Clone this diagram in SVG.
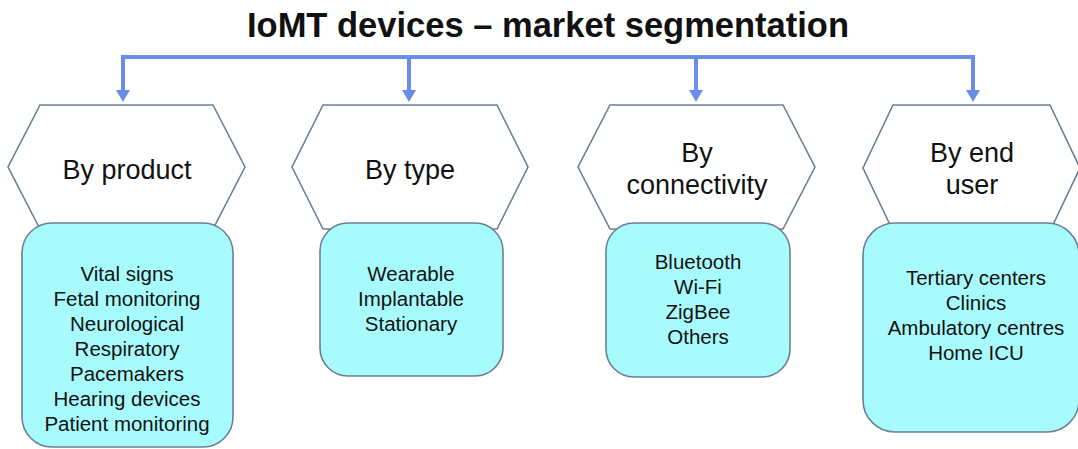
<svg xmlns="http://www.w3.org/2000/svg" width="1078" height="449" viewBox="0 0 1078 449">
<defs>
<style>
.hex{fill:#ffffff;stroke:#6d7f95;stroke-width:1.6}
.box{fill:#a8fbfd;stroke:#6d7f95;stroke-width:1.6}
.hd{font-family:"Liberation Sans",Arial,sans-serif;font-size:27px;fill:#111;text-anchor:middle}
.it{font-family:"Liberation Sans",Arial,sans-serif;font-size:20.5px;fill:#111;text-anchor:middle}
.title{font-family:"Liberation Sans",Arial,sans-serif;font-size:34.5px;font-weight:bold;fill:#111;text-anchor:middle}
.con{fill:none;stroke:#6a8ee8;stroke-width:4}
.ah{fill:#6a8ee8}
</style>
</defs>
<rect width="1078" height="449" fill="#ffffff"/>
<text class="title" x="548" y="37">IoMT devices – market segmentation</text>
<g id="connectors">
<path class="con" d="M123,57 L973,57"/>
<path class="con" d="M123,55 L123,92"/>
<path class="con" d="M409,55 L409,92"/>
<path class="con" d="M696,55 L696,92"/>
<path class="con" d="M973,55 L973,92"/>
<path class="ah" d="M116,90 L130,90 L123,102 Z"/>
<path class="ah" d="M402,90 L416,90 L409,102 Z"/>
<path class="ah" d="M689,90 L703,90 L696,102 Z"/>
<path class="ah" d="M966,90 L980,90 L973,102 Z"/>
</g>
<g id="product">
<polygon class="hex" points="40,105 213,105 245,167 213,229 40,229 8,167"/>
<rect class="box" x="22" y="223" width="211" height="224" rx="30"/>
<text class="hd" x="127" y="179">By product</text>
<text class="it" x="127" y="281">Vital signs</text>
<text class="it" x="127" y="306">Fetal monitoring</text>
<text class="it" x="127" y="331">Neurological</text>
<text class="it" x="127" y="356">Respiratory</text>
<text class="it" x="127" y="381">Pacemakers</text>
<text class="it" x="127" y="406">Hearing devices</text>
<text class="it" x="127" y="431">Patient monitoring</text>
</g>
<g id="type">
<polygon class="hex" points="323,105 497,105 528,167 497,229 323,229 292,167"/>
<rect class="box" x="320" y="223" width="183" height="153" rx="28"/>
<text class="hd" x="410" y="179">By type</text>
<text class="it" x="411" y="281">Wearable</text>
<text class="it" x="411" y="306">Implantable</text>
<text class="it" x="411" y="331">Stationary</text>
</g>
<g id="connectivity">
<polygon class="hex" points="610,105 783,105 815,167 783,229 610,229 578,167"/>
<rect class="box" x="606" y="223" width="184" height="154" rx="28"/>
<text class="hd" x="697" y="162">By</text>
<text class="hd" x="697" y="194">connectivity</text>
<text class="it" x="698" y="269">Bluetooth</text>
<text class="it" x="698" y="294">Wi-Fi</text>
<text class="it" x="698" y="319">ZigBee</text>
<text class="it" x="698" y="344">Others</text>
</g>
<g id="enduser">
<polygon class="hex" points="893,105 1050,105 1080,168 1050,231 893,231 863,168"/>
<rect class="box" x="863" y="223" width="216" height="209" rx="32"/>
<text class="hd" x="972" y="162">By end</text>
<text class="hd" x="972" y="194">user</text>
<text class="it" x="976" y="285">Tertiary centers</text>
<text class="it" x="976" y="310">Clinics</text>
<text class="it" x="976" y="335">Ambulatory centres</text>
<text class="it" x="976" y="360">Home ICU</text>
</g>
</svg>
